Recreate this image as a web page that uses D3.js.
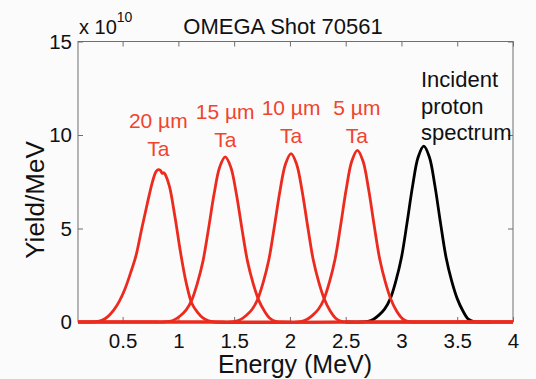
<!DOCTYPE html>
<html>
<head>
<meta charset="utf-8">
<script src="https://cdn.jsdelivr.net/npm/d3@7"></script>
<style>
  body { margin: 0; background: #fbfbfc; }
  svg { display: block; font-family: "Liberation Sans", Arial, sans-serif; }
</style>
</head>
<body>
<div id="plot"></div>
<script>
// curves: [energy MeV, yield / 1e10 per MeV]
const incident = [[2.50,0],[2.65,0],[2.70,0.03],[2.75,0.15],[2.80,0.38],[2.85,0.70],[2.90,1.25],[2.95,2.20],[3.00,3.45],[3.05,5.30],[3.10,7.28],[3.15,8.82],[3.20,9.40],[3.25,8.82],[3.30,7.28],[3.35,5.30],[3.40,3.45],[3.45,2.20],[3.50,1.25],[3.55,0.60],[3.60,0.15],[3.65,0.02],[3.70,0],[3.80,0]];
const ta20 = [[0.1,0],[0.22,0],[0.27,0.02],[0.32,0.10],[0.37,0.30],[0.42,0.63],[0.47,1.10],[0.52,1.75],[0.57,2.60],[0.62,3.55],[0.67,4.95],[0.72,6.30],[0.77,7.55],[0.80,8.05],[0.82,8.15],[0.84,8.10],[0.855,7.95],[0.87,7.98],[0.885,7.85],[0.92,7.25],[0.97,5.60],[1.02,3.70],[1.07,2.10],[1.12,1.00],[1.17,0.53],[1.22,0.22],[1.27,0.06],[1.32,0],[2.5,0],[4.0,0]];
const ta15 = [[0.1,0],[0.80,0],[0.87,0],[0.92,0.03],[0.97,0.14],[1.02,0.35],[1.07,0.65],[1.12,1.17],[1.17,2.07],[1.22,3.24],[1.27,4.98],[1.32,6.84],[1.37,8.28],[1.42,8.83],[1.47,8.28],[1.52,6.84],[1.57,4.98],[1.62,3.24],[1.67,2.07],[1.72,1.17],[1.77,0.60],[1.82,0.20],[1.87,0.03],[1.92,0],[2.8,0],[4.0,0]];
const ta10 = [[0.1,0],[1.40,0],[1.46,0],[1.51,0.03],[1.56,0.14],[1.61,0.36],[1.66,0.67],[1.71,1.20],[1.76,2.11],[1.81,3.30],[1.86,5.08],[1.91,6.98],[1.96,8.44],[2.01,9.00],[2.06,8.44],[2.11,6.98],[2.16,5.08],[2.21,3.30],[2.26,2.11],[2.31,1.20],[2.36,0.60],[2.41,0.20],[2.46,0.03],[2.51,0],[3.2,0],[4.0,0]];
const ta5 = [[0.1,0],[2.0,0],[2.055,0],[2.105,0.03],[2.155,0.15],[2.205,0.37],[2.255,0.68],[2.305,1.22],[2.355,2.15],[2.405,3.37],[2.455,5.18],[2.505,7.11],[2.555,8.61],[2.605,9.18],[2.655,8.61],[2.705,7.11],[2.755,5.18],[2.805,3.37],[2.855,2.15],[2.905,1.22],[2.955,0.60],[3.005,0.20],[3.055,0.03],[3.105,0],[3.6,0],[4.0,0]];

const xTicks = [0.5, 1, 1.5, 2, 2.5, 3, 3.5, 4];
const xTickLabels = ["0.5", "1", "1.5", "2", "2.5", "3", "3.5", "4"];
const yTicks = [0, 5, 10, 15];

// labels above each peak: [energy, first line, second line]
const redLabels = [[0.82, "20 µm", "Ta"], [1.42, "15 µm", "Ta"], [2.01, "10 µm", "Ta"], [2.60, "5 µm", "Ta"]];
const incidentLabel = ["Incident", "proton", "spectrum"];

const red = "#ec2a1e", redText = "#f0442c", frame = "#6e6e6e";

const svg = d3.select("#plot")
  .append("svg")
    .attr("width", 536)
    .attr("height", 379);

const x = d3.scaleLinear().domain([0.1, 4]).range([78, 513]);
const y = d3.scaleLinear().domain([0, 15]).range([322, 41.5]);

// axes with inward ticks on all four sides
const styleAxis = g => {
  g.select(".domain").remove();
  g.selectAll("line").attr("stroke", frame);
  g.selectAll("text").attr("font-size", 20.5).attr("fill", "#111").attr("font-family", null);
};
svg.append("g")
  .attr("transform", "translate(0,322)")
  .call(d3.axisBottom(x).tickValues(xTicks).tickSize(-5).tickPadding(11)
    .tickFormat((d, i) => xTickLabels[i]))
  .call(styleAxis);
svg.append("g")
  .attr("transform", "translate(0,41.5)")
  .call(d3.axisTop(x).tickValues(xTicks).tickSize(-5).tickFormat(""))
  .call(styleAxis);
svg.append("g")
  .attr("transform", "translate(78,0)")
  .call(d3.axisLeft(y).tickValues(yTicks).tickSize(-5).tickPadding(6))
  .call(styleAxis);
svg.append("g")
  .attr("transform", "translate(513,0)")
  .call(d3.axisRight(y).tickValues(yTicks).tickSize(-5).tickFormat(""))
  .call(styleAxis);

svg.append("rect")
  .attr("x", 78).attr("y", 41.5)
  .attr("width", 513 - 78).attr("height", 322 - 41.5)
  .attr("fill", "none")
  .attr("stroke", frame);

const line = d3.line()
  .x(d => x(d[0]))
  .y(d => y(Math.max(0, d[1])))
  .curve(d3.curveCatmullRom.alpha(0.5));

svg.append("path")
  .datum(incident)
  .attr("d", line)
  .attr("fill", "none")
  .attr("stroke", "#000")
  .attr("stroke-width", 2.8);

svg.selectAll(".ta")
  .data([ta20, ta15, ta10, ta5])
  .join("path")
    .attr("class", "ta")
    .attr("d", line)
    .attr("fill", "none")
    .attr("stroke", red)
    .attr("stroke-width", 2.8);

// peak labels
const labelBase = [128, 119, 115, 115];
redLabels.forEach((l, i) => {
  const t = svg.append("text")
    .attr("text-anchor", "middle")
    .attr("font-size", 21)
    .attr("fill", redText);
  t.append("tspan").attr("x", x(l[0])).attr("y", labelBase[i]).text(l[1]);
  t.append("tspan").attr("x", x(l[0])).attr("y", labelBase[i] + 28).text(l[2]);
});

const inc = svg.append("text")
  .attr("font-size", 22)
  .attr("fill", "#111");
incidentLabel.forEach((s, i) => {
  inc.append("tspan").attr("x", 421).attr("y", 87 + i * 26.5).text(s);
});

// title and exponent
svg.append("text")
  .attr("x", 283).attr("y", 34)
  .attr("text-anchor", "middle")
  .attr("font-size", 22)
  .attr("fill", "#111")
  .text("OMEGA Shot 70561");
const ex = svg.append("text")
  .attr("x", 79).attr("y", 34)
  .attr("font-size", 20)
  .attr("fill", "#111");
ex.append("tspan").text("x 10");
ex.append("tspan").attr("dy", -12).attr("font-size", 14).text("10");

// axis titles
svg.append("text")
  .attr("x", 295).attr("y", 373)
  .attr("text-anchor", "middle")
  .attr("font-size", 25)
  .attr("fill", "#111")
  .text("Energy (MeV)");
svg.append("text")
  .attr("transform", "translate(44,200) rotate(-90)")
  .attr("text-anchor", "middle")
  .attr("font-size", 26)
  .attr("fill", "#111")
  .text("Yield/MeV");
</script>
</body>
</html>
